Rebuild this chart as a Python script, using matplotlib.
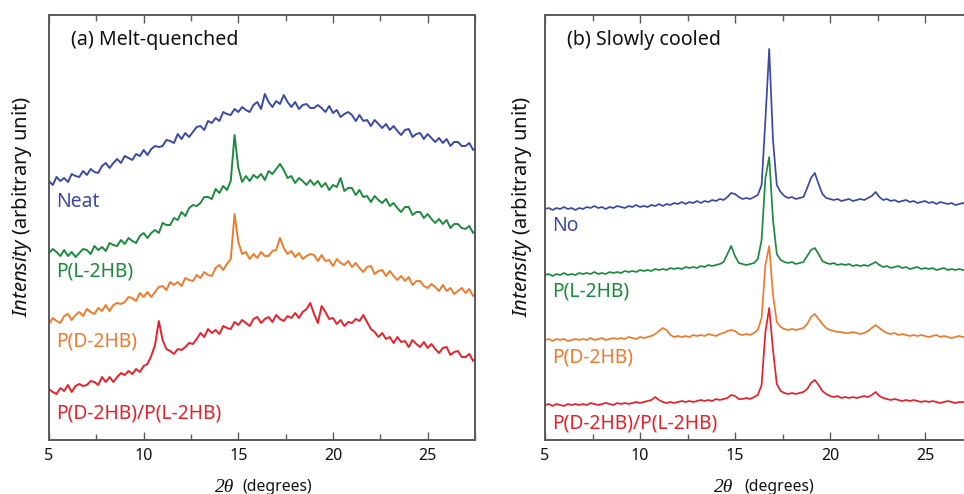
import numpy as np
import matplotlib
matplotlib.use("Agg")
import matplotlib.pyplot as plt
from matplotlib.ticker import MultipleLocator

plt.rcParams["font.family"] = ["Noto Sans", "DejaVu Sans"]
plt.rcParams["mathtext.fontset"] = "custom"
plt.rcParams["mathtext.rm"] = "Noto Sans"
plt.rcParams["mathtext.it"] = "Noto Sans:italic"

# Diffraction angle grid (2-theta, degrees), 0.2 deg steps from 5.0
THETA_START = 5.0
THETA_STEP = 0.2

# (a) Melt-quenched, intensity in arbitrary units (offset traces)
mq_neat = [
    259, 255, 263, 259, 262, 258, 266, 264, 263, 269,
    265, 271, 268, 267, 274, 277, 272, 277, 281, 277,
    284, 282, 280, 286, 284, 290, 285, 291, 294, 293,
    294, 300, 299, 297, 306, 301, 307, 303, 308, 313,
    314, 310, 319, 317, 322, 319, 328, 326, 325, 331,
    328, 333, 330, 328, 335, 338, 331, 346, 338, 333,
    339, 336, 345, 338, 333, 338, 331, 335, 336, 332,
    332, 335, 332, 328, 334, 327, 330, 323, 326, 328,
    325, 319, 325, 319, 320, 314, 320, 316, 312, 316,
    310, 314, 309, 305, 310, 311, 303, 306, 307, 301,
    306, 302, 298, 302, 297, 301, 294, 298, 298, 294,
    294, 297, 290, 294,
]
mq_pl = [
    187, 191, 188, 184, 190, 184, 188, 183, 187, 191,
    190, 186, 194, 190, 193, 189, 197, 195, 194, 200,
    196, 202, 199, 197, 204, 207, 202, 207, 210, 207,
    217, 215, 215, 222, 220, 228, 224, 232, 235, 234,
    237, 243, 243, 241, 251, 247, 254, 250, 259, 305,
    272, 258, 264, 259, 265, 262, 266, 260, 269, 266,
    271, 276, 270, 262, 264, 257, 262, 259, 255, 260,
    255, 259, 253, 257, 250, 255, 253, 262, 249, 252,
    252, 245, 250, 243, 244, 238, 244, 240, 237, 241,
    234, 237, 232, 228, 233, 233, 225, 228, 228, 222,
    226, 221, 217, 221, 216, 220, 212, 216, 216, 212,
    211, 214, 207, 210,
]
mq_pd = [
    116, 122, 119, 117, 124, 126, 120, 125, 128, 124,
    131, 128, 126, 132, 129, 135, 129, 135, 137, 136,
    138, 143, 142, 139, 147, 143, 148, 143, 148, 153,
    154, 150, 158, 155, 158, 154, 162, 160, 159, 165,
    162, 168, 165, 164, 172, 175, 170, 176, 181, 226,
    198, 186, 188, 181, 186, 182, 188, 184, 184, 189,
    190, 202, 192, 186, 189, 183, 187, 181, 184, 186,
    185, 179, 185, 179, 180, 174, 181, 177, 175, 179,
    173, 177, 172, 168, 173, 174, 166, 169, 170, 164,
    169, 164, 160, 164, 159, 163, 155, 159, 159, 154,
    152, 156, 153, 149, 155, 149, 152, 146, 149, 152,
    147, 151, 144, 148,
]
mq_blend = [
    51, 48, 46, 52, 49, 55, 48, 54, 56, 54,
    55, 59, 58, 55, 63, 58, 63, 58, 63, 67,
    65, 69, 66, 71, 68, 74, 76, 84, 95, 119,
    100, 91, 89, 86, 91, 90, 93, 97, 96, 101,
    107, 103, 111, 107, 110, 106, 114, 112, 111, 118,
    115, 120, 117, 114, 121, 123, 117, 121, 123, 118,
    125, 121, 119, 124, 122, 127, 122, 128, 131, 137,
    126, 117, 134, 128, 121, 122, 116, 120, 114, 118,
    117, 121, 119, 125, 118, 111, 108, 103, 107, 101,
    103, 97, 103, 98, 99, 93, 100, 96, 93, 98,
    92, 96, 91, 87, 92, 93, 85, 88, 89, 83,
    83, 86, 79, 83,
]

# (b) Slowly cooled
sc_no = [
    231, 232, 230, 232, 231, 233, 231, 232, 230, 232,
    231, 233, 232, 234, 232, 233, 231, 233, 232, 234,
    233, 232, 234, 233, 235, 233, 234, 233, 235, 234,
    236, 234, 236, 235, 237, 236, 238, 236, 238, 237,
    239, 237, 239, 238, 240, 239, 241, 240, 243, 247,
    246, 243, 241, 242, 241, 243, 245, 255, 320, 391,
    300, 255, 248, 244, 242, 243, 241, 242, 243, 252,
    262, 267, 256, 246, 242, 241, 240, 241, 239, 240,
    241, 239, 240, 241, 240, 242, 244, 248, 243, 240,
    241, 239, 240, 238, 239, 240, 238, 239, 237, 238,
    239, 237, 238, 236, 238, 237, 236, 237, 235, 236,
    237, 235, 236, 236,
]
sc_pl = [
    165, 166, 164, 166, 165, 167, 165, 166, 165, 167,
    166, 167, 166, 168, 166, 167, 166, 168, 167, 168,
    167, 169, 168, 169, 168, 170, 169, 170, 169, 171,
    170, 171, 170, 172, 171, 172, 171, 173, 172, 173,
    172, 174, 173, 175, 174, 175, 176, 178, 186, 194,
    184, 177, 176, 175, 176, 177, 181, 200, 262, 283,
    220, 186, 180, 178, 177, 178, 176, 177, 178, 184,
    190, 192, 186, 179, 177, 176, 177, 175, 176, 175,
    176, 174, 175, 174, 175, 174, 176, 178, 175, 173,
    174, 172, 173, 174, 172, 173, 171, 172, 173, 171,
    172, 171, 172, 170, 171, 172, 170, 171, 170, 171,
    170, 171, 170, 171,
]
sc_pd = [
    100, 101, 99, 101, 100, 101, 99, 100, 101, 100,
    101, 100, 102, 100, 101, 102, 100, 101, 102, 101,
    102, 101, 103, 102, 101, 103, 102, 103, 104, 106,
    109, 112, 110, 105, 103, 104, 103, 104, 103, 105,
    104, 105, 104, 106, 105, 104, 106, 107, 109, 110,
    109, 106, 105, 106, 105, 107, 110, 122, 175, 194,
    145, 118, 113, 111, 110, 111, 110, 111, 112, 116,
    123, 126, 121, 116, 112, 110, 109, 108, 108, 107,
    107, 108, 107, 106, 107, 109, 112, 115, 112, 109,
    107, 106, 107, 105, 106, 105, 104, 105, 104, 105,
    104, 103, 104, 105, 103, 104, 103, 102, 103, 104,
    103, 102, 103, 103,
]
sc_blend = [
    35, 36, 34, 36, 35, 34, 36, 35, 36, 35,
    36, 35, 37, 36, 35, 36, 37, 36, 35, 37,
    36, 37, 36, 37, 38, 37, 38, 39, 40, 43,
    40, 38, 37, 38, 37, 38, 39, 38, 39, 38,
    39, 40, 39, 40, 39, 41, 40, 41, 42, 45,
    44, 41, 41, 42, 41, 43, 45, 55, 108, 132,
    90, 56, 49, 47, 46, 47, 46, 47, 48, 51,
    57, 60, 55, 49, 46, 44, 43, 44, 42, 43,
    42, 43, 42, 43, 44, 43, 45, 48, 44, 42,
    41, 40, 41, 40, 39, 40, 39, 40, 39, 38,
    39, 38, 39, 38, 37, 38, 39, 38, 37, 38,
    38, 37, 38, 38,
]

labels_a = ["Neat", "P(L-2HB)", "P(D-2HB)", "P(D-2HB)/P(L-2HB)"]
labels_b = ["No", "P(L-2HB)", "P(D-2HB)", "P(D-2HB)/P(L-2HB)"]
label_y_a = [238, 168, 98, 27]
label_y_b = [214, 148, 83, 17]
colors = ["#3a48a6", "#1c8a3e", "#f07a2c", "#e8202a"]
xticks = [5, 10, 15, 20, 25]

FRAME = "#5a5a5a"
TEXT = "#111111"
W, H = 964, 494
fig = plt.figure(figsize=(W / 100, H / 100), dpi=100)


def px_box(x0, x1, ytop, ybot):
    return [x0 / W, 1 - ybot / H, (x1 - x0) / W, (ybot - ytop) / H]


def theta_for(vals):
    return THETA_START + THETA_STEP * np.arange(len(vals))


def style_axes(ax):
    ax.set_xlim(5, 27.5)
    ax.set_ylim(0, 425)
    ax.set_yticks([])
    ax.set_xticks(xticks)
    ax.xaxis.set_minor_locator(MultipleLocator(2.5))
    ax.tick_params(axis="x", which="both", direction="in", top=True,
                   color=FRAME, width=1.0, labelsize=11.5, pad=6,
                   labelcolor=TEXT)
    ax.tick_params(axis="x", which="major", length=6)
    ax.tick_params(axis="x", which="minor", length=4)
    for s in ax.spines.values():
        s.set_color(FRAME)
        s.set_linewidth(1.4)


def draw_panel(ax, series, labels, label_y, title, lw):
    for vals, c, lab, ly in zip(series, colors, labels, label_y):
        ax.plot(theta_for(vals), vals, color=c, lw=lw)
        ax.text(5.35, ly, lab, color=c, fontsize=13.9, va="center", ha="left")
    ax.text(6.15, 400, title, color=TEXT, fontsize=14.1, va="center", ha="left")
    style_axes(ax)


ax_a = fig.add_axes(px_box(49, 475, 15, 440))
draw_panel(ax_a, [mq_neat, mq_pl, mq_pd, mq_blend], labels_a, label_y_a,
           "(a) Melt-quenched", 1.4)

ax_b = fig.add_axes(px_box(545, 972.5, 15, 440))
draw_panel(ax_b, [sc_no, sc_pl, sc_pd, sc_blend], labels_b, label_y_b,
           "(b) Slowly cooled", 1.25)

# Axis titles
for xc in (22, 522):
    fig.text(xc / W, 1 - 207 / H, r"$\mathit{Intensity}$ (arbitrary unit)",
             rotation=90, ha="center", va="center", fontsize=14.5, color=TEXT)

for x_theta, x_deg in ((234, 242), (733, 744)):
    fig.text(x_theta / W, 1 - 487 / H, "2θ", ha="right", va="center",
             fontsize=14, style="italic", family=["Liberation Serif", "DejaVu Serif"],
             color=TEXT)
    fig.text(x_deg / W, 1 - 487 / H, "(degrees)", ha="left", va="center",
             fontsize=11.3, color=TEXT)

fig.savefig("out.png", dpi=100)
